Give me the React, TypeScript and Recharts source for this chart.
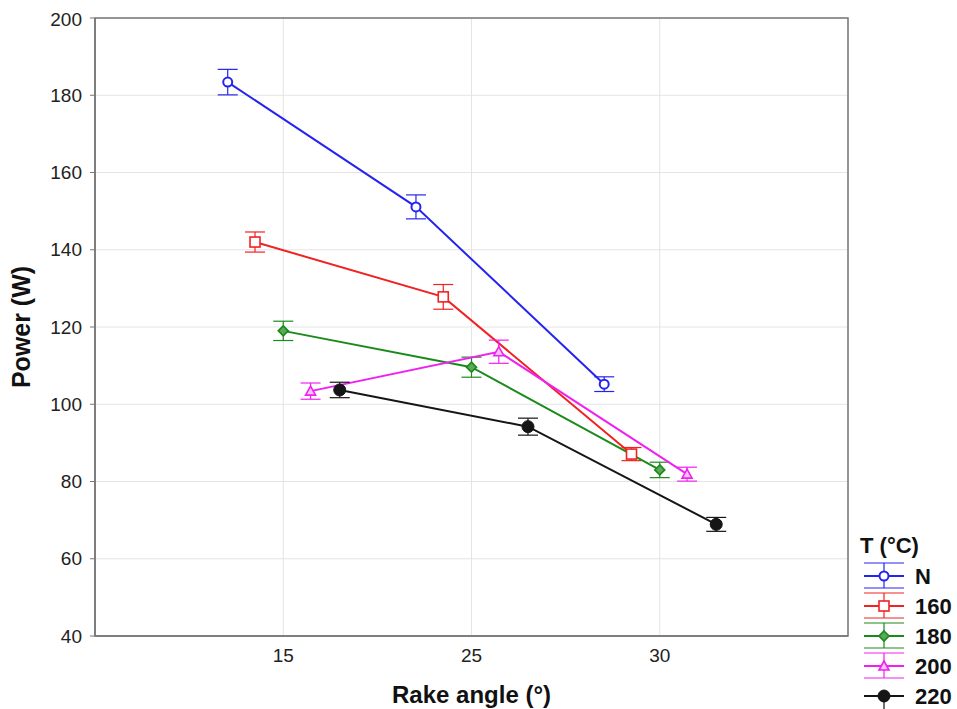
import {
  ComposedChart,
  Line,
  XAxis,
  YAxis,
  CartesianGrid,
  ErrorBar,
  Legend,
  ReferenceArea,
} from "recharts";

const categories = ["15", "25", "30"];
const categoryPositions = [1, 2, 3];
const yTicks = [40, 60, 80, 100, 120, 140, 160, 180, 200];

const seriesNames = ["N", "160", "180", "200", "220"];
const seriesColors = ["#2424f0", "#f02222", "#1a8a1a", "#f020f0", "#151515"];
const seriesOffsets = [-0.295, -0.15, 0, 0.145, 0.3];

const powerN = [183.4, 151.1, 105.2];
const power160 = [142.0, 127.8, 87.1];
const power180 = [119.0, 109.6, 83.0];
const power200 = [103.4, 113.6, 81.9];
const power220 = [103.7, 94.2, 68.9];

const errN = [3.3, 3.1, 1.9];
const err160 = [2.6, 3.2, 1.7];
const err180 = [2.5, 2.6, 2.0];
const err200 = [2.1, 3.0, 1.8];
const err220 = [2.0, 2.2, 1.8];

const powers = [powerN, power160, power180, power200, power220];
const errors = [errN, err160, err180, err200, err220];

const series = seriesNames.map((name, i) => ({
  name,
  color: seriesColors[i],
  data: categoryPositions.map((pos, j) => ({
    x: pos + seriesOffsets[i],
    power: powers[i][j],
    err: errors[i][j],
  })),
}));

const FONT = "'Liberation Sans', Arial, sans-serif";

function Marker({ kind, cx, cy, color }: { kind: number; cx: number; cy: number; color: string }) {
  if (kind === 0) {
    return <circle cx={cx} cy={cy} r={4.5} fill="#fff" stroke={color} strokeWidth={2} />;
  }
  if (kind === 1) {
    return <rect x={cx - 5} y={cy - 5} width={10} height={10} fill="#fff" stroke={color} strokeWidth={1.6} />;
  }
  if (kind === 2) {
    return (
      <path
        d={`M${cx},${cy - 5} L${cx + 5},${cy} L${cx},${cy + 5} L${cx - 5},${cy} Z`}
        fill="#5aa85a"
        stroke={color}
        strokeWidth={1.6}
      />
    );
  }
  if (kind === 3) {
    return (
      <path
        d={`M${cx},${cy - 5} L${cx + 5},${cy + 4} L${cx - 5},${cy + 4} Z`}
        fill="#f7c4f7"
        stroke={color}
        strokeWidth={1.6}
      />
    );
  }
  return <circle cx={cx} cy={cy} r={6} fill={color} stroke={color} strokeWidth={1} />;
}

function renderLegend() {
  return (
    <svg width={100} height={184} style={{ overflow: "hidden" }}>
      <text x={3} y={28} fontFamily={FONT} fontSize={22} fontWeight="bold" fill="#111">
        T (°C)
      </text>
      {series.map((s, i) => {
        const cy = 51 + i * 30;
        return (
          <g key={s.name}>
            {i < 4 && (
              <>
                <line x1={7} x2={47} y1={cy - 13} y2={cy - 13} stroke={s.color} strokeWidth={1.2} />
                <line x1={7} x2={47} y1={cy + 12} y2={cy + 12} stroke={s.color} strokeWidth={1.2} />
                <line x1={27} x2={27} y1={cy - 13} y2={cy + 12} stroke={s.color} strokeWidth={1.2} />
              </>
            )}
            {i === 4 && <line x1={27} x2={27} y1={cy} y2={cy + 14} stroke={s.color} strokeWidth={1.2} />}
            <line x1={7} x2={47} y1={cy} y2={cy} stroke={s.color} strokeWidth={2.2} />
            <Marker kind={i} cx={27} cy={cy} color={s.color} />
            <text x={58} y={cy + 8} fontFamily={FONT} fontSize={22} fontWeight="bold" fill="#111">
              {s.name}
            </text>
          </g>
        );
      })}
    </svg>
  );
}

export default function App() {
  return (
    <div style={{ position: "absolute", left: 8, top: 8 }}>
      <ComposedChart
        width={949}
        height={701}
        margin={{ top: 10, right: 109, bottom: 0, left: 0 }}
        style={{ fontFamily: FONT }}
      >
        <CartesianGrid stroke="#e4e4e4" strokeWidth={1} />
        <XAxis
          type="number"
          dataKey="x"
          domain={[0, 4]}
          ticks={categoryPositions}
          tickFormatter={(v: number) => categories[v - 1]}
          allowDataOverflow
          height={73}
          tickLine={false}
          tickSize={5}
          tickMargin={8}
          axisLine={{ stroke: "#777", strokeWidth: 1.5 }}
          tick={{ fill: "#222", fontSize: 19, fontFamily: FONT }}
          label={{
            value: "Rake angle (°)",
            position: "insideBottom",
            offset: 6,
            style: { fontSize: 24, fontWeight: "bold", fill: "#111", fontFamily: FONT },
          }}
        />
        <YAxis
          type="number"
          domain={[40, 200]}
          ticks={yTicks}
          allowDataOverflow
          width={87}
          tickSize={5}
          tickMargin={8}
          tickLine={{ stroke: "#777" }}
          axisLine={{ stroke: "#777", strokeWidth: 1.5 }}
          tick={{ fill: "#222", fontSize: 19, fontFamily: FONT }}
          label={{
            value: "Power (W)",
            angle: -90,
            position: "insideLeft",
            offset: 13,
            style: { fontSize: 25, fontWeight: "bold", fill: "#111", fontFamily: FONT, textAnchor: "middle" },
          }}
        />
        <ReferenceArea x1={0} x2={4} y1={40} y2={200} fill="none" fillOpacity={0} stroke="#777" strokeWidth={1.5} />
        <Legend
          content={renderLegend}
          layout="horizontal"
          verticalAlign="middle"
          align="center"
          wrapperStyle={{ left: 849, top: 517, width: 100, height: 184 }}
        />
        {series.map((s, i) => (
          <Line
            key={s.name}
            data={s.data}
            dataKey="power"
            name={s.name}
            stroke={s.color}
            strokeWidth={2}
            isAnimationActive={false}
            dot={(p: any) => <Marker key={`${s.name}-${p.index}`} kind={i} cx={p.cx} cy={p.cy} color={s.color} />}
            activeDot={false}
          >
            <ErrorBar dataKey="err" direction="y" width={10} stroke={s.color} strokeWidth={1.2} isAnimationActive={false} />
          </Line>
        ))}
      </ComposedChart>
    </div>
  );
}
